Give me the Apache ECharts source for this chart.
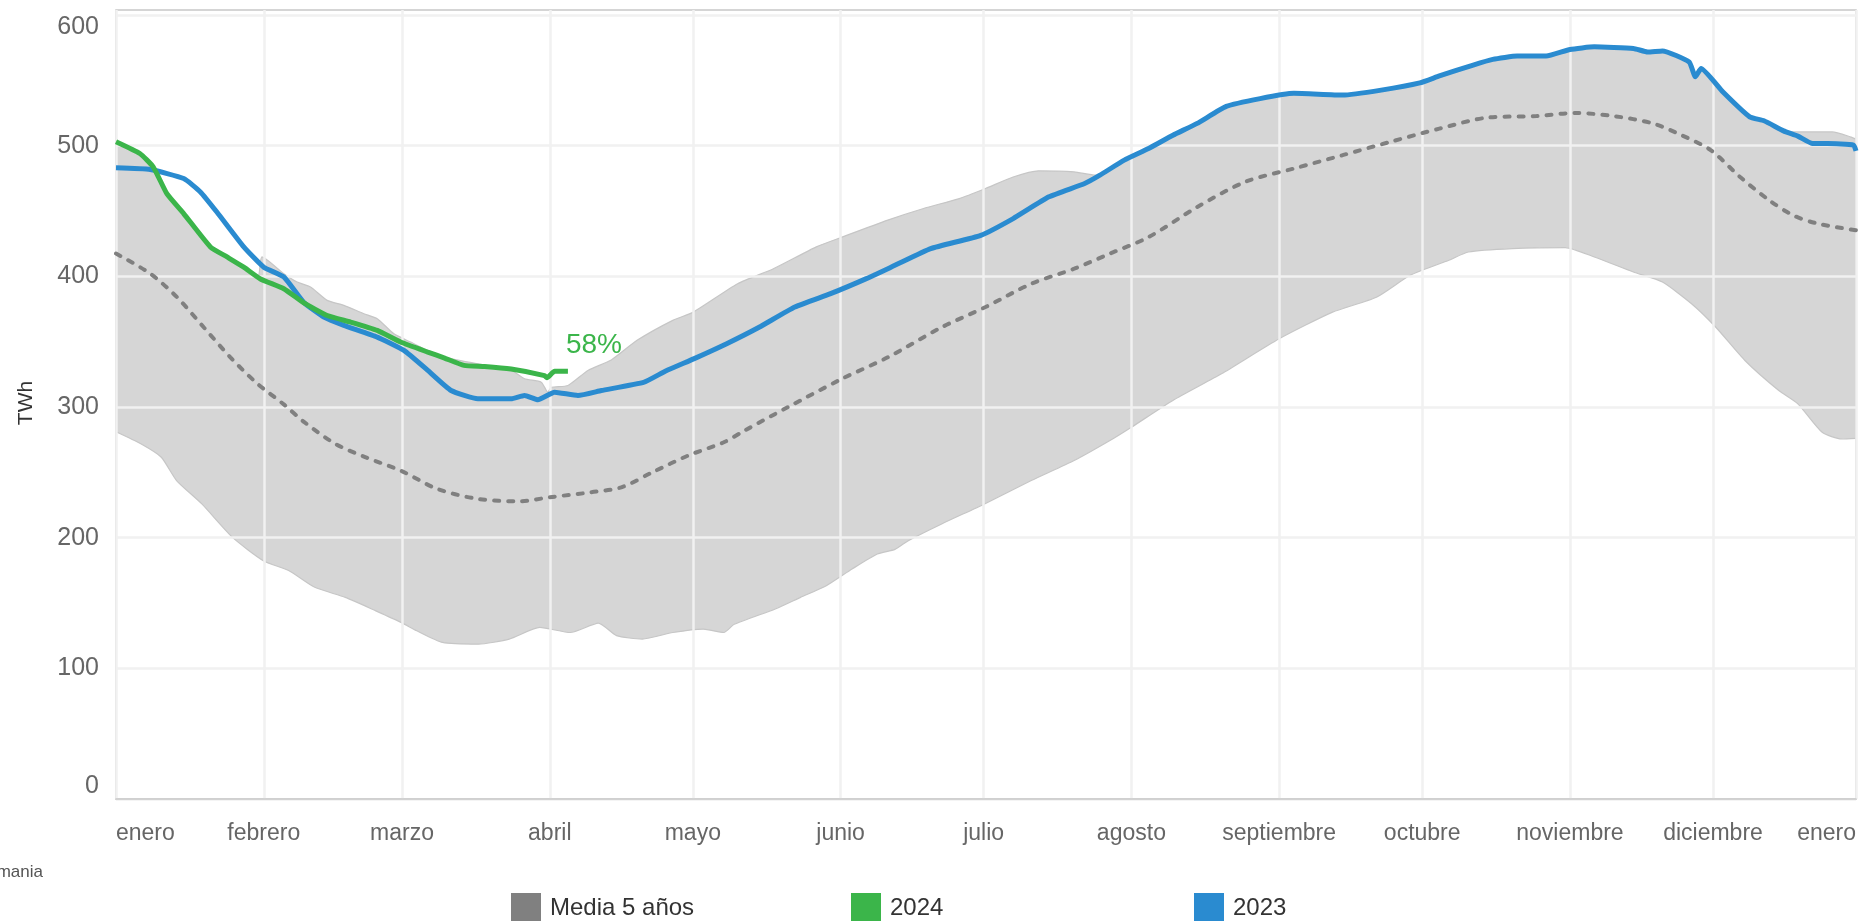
<!DOCTYPE html>
<html>
<head>
<meta charset="utf-8">
<script src="https://cdn.jsdelivr.net/npm/echarts@6/dist/echarts.min.js"></script>
<style>
  html, body { margin: 0; padding: 0; background: #fff; }
  #chart { width: 1875px; height: 921px; }
</style>
</head>
<body>
<div id="chart"></div>
<script>
// eje x: dia del año (0 = 1 de enero)
var monthStarts = [0, 31, 60, 91, 121, 152, 182, 213, 244, 274, 305, 335, 365];
var monthNames = ['enero', 'febrero', 'marzo', 'abril', 'mayo', 'junio', 'julio',
  'agosto', 'septiembre', 'octubre', 'noviembre', 'diciembre', 'enero'];
var yTicks = [0, 100, 200, 300, 400, 500, 600];

// rango de 5 años: borde superior
var highDays = [0, 5, 7.8, 10.7, 14.2, 19.8, 23.3, 26.8, 29.8, 30.6, 35.2, 38, 40.8, 44.3, 47.8, 52, 54.8, 58.3, 61.8, 65.4,
  68.8, 75.9, 82.9, 85.7, 89.2, 90.6, 91.3, 94.8, 99, 103.9, 109.3, 116.8, 121.1, 130.4, 137.9, 146.9, 152.3, 161.9, 169.4, 176.9,
  182.4, 188.2, 193.5, 201, 205.5, 211.5, 216.6, 221.7, 226.8, 232.9, 240, 247.1, 257.3, 265.4, 273.5, 277.6, 284.7, 288.8, 293.9, 300,
  305, 310.1, 318.3, 321.3, 324.4, 330, 331.3, 332.5, 337.1, 342.7, 345.7, 349.8, 360, 364, 365];
var bandHigh = [502, 494, 484, 463, 448, 422.5, 415, 407, 400, 414.8, 402, 395.6, 391.8, 381.6, 377.8, 371.4, 367.6, 356, 349.7, 343.3,
  338.2, 333, 328, 321.6, 319, 311.3, 315, 316.5, 328, 336, 351, 366.3, 372.6, 394.3, 405.8, 422.5, 430, 443, 451.9, 459.5,
  467.2, 476, 480.7, 479.9, 477.4, 488, 497, 507, 516, 529, 535, 539, 538, 541.5, 547, 552, 561, 565, 567.6, 567.6,
  572.6, 574.6, 573.4, 570.7, 571.5, 563, 552, 558, 540, 521, 518, 510.5, 510.5, 506.5, 505];

// rango de 5 años: borde inferior
var lowDays = [0, 5.2, 9.5, 12.7, 18, 24.5, 30.9, 36.3, 41.7, 48.1, 54.5, 59.9, 63.1, 68.5, 76, 82.5, 88.9, 95.3, 101.2, 105,
  110.4, 116.8, 123.2, 127.5, 129.7, 138.3, 143.6, 149, 154.4, 159.7, 163.4, 166.2, 173.2, 182.2, 192, 201, 208.5, 213, 221.7, 231.9,
  244, 255.2, 264.4, 271.5, 279.6, 283.7, 292.9, 304, 310.1, 318.3, 324.4, 330.5, 335.6, 341.7, 348.8, 352.8, 357.9, 362, 365];
var bandLow = [281, 271.8, 261.5, 243.7, 225.8, 200, 182.4, 174.7, 162, 154.3, 144, 135, 128.7, 119.8, 118.5, 122.4, 131.3, 127.4, 134.6, 125,
  122.4, 127.4, 130, 127.4, 133.7, 145.4, 154.3, 163.2, 176, 187.5, 191, 197.7, 210.5, 225.8, 243.7, 259, 274.3, 284.5, 305, 325.4,
  352.2, 372.6, 384, 400.8, 412.3, 418.6, 421.2, 422, 414.8, 403.3, 395.6, 379, 361, 335.6, 312.6, 302.4, 280.6, 275.5, 276];

// media 5 años
var avgDays = [0, 7.2, 12.8, 18.4, 24, 29.6, 35.2, 39.5, 46, 52.4, 59.9, 67.4, 76, 84.6, 91, 99.6, 106, 112.5, 120, 127.5,
  131.9, 140.9, 152.3, 161.9, 173.2, 182.4, 192, 201, 208.5, 216.6, 226.8, 236.9, 247.1, 257.3, 267.4, 277.6, 287.8, 298, 306, 314.2,
  322.4, 328.4, 334.5, 340.7, 346.8, 351.8, 356.9, 365];
var avg5 = [417.4, 402, 384, 361, 338, 318, 302, 288.4, 271.8, 261.5, 251, 237.3, 229.6, 227.8, 230.9, 234.7, 238.5, 250, 262.8, 273,
  282, 299.8, 321.6, 338, 361, 376.5, 394.3, 405.8, 417.4, 430, 453, 472.3, 482.5, 492.7, 503, 513, 521.5, 522.6, 525, 522.6,
  517, 508, 496.6, 476, 458.2, 446.7, 440.4, 435.2];

// 2023
var days2023 = [0, 7.2, 14.2, 17.7, 21.2, 26.8, 31, 35.2, 39.4, 43.6, 47.8, 54.8, 60.4, 65.4, 70.3, 75.9, 82.9, 85.7, 88.5, 92,
  96.9, 101.8, 110.8, 115.3, 121.3, 128.1, 134.9, 142.4, 149.9, 157.4, 163.4, 170.9, 181.4, 188.2, 195.7, 203.2, 206.4, 211.5, 216.6, 221.7,
  226.8, 232.9, 240, 247.1, 257.3, 265.4, 273.5, 277.6, 284.7, 288.8, 293.9, 300, 305, 310.1, 318.3, 321.3, 324.4, 330, 331.3, 332.5,
  337.1, 342.7, 345.7, 349.8, 352.8, 355.9, 359, 364.5, 365];
var vals2023 = [483, 481.7, 474.8, 464.6, 449, 422.5, 407, 399.5, 380, 368.8, 362.5, 353.5, 343.3, 328, 312.6, 306.3, 306.3, 308.8, 305.5, 311.3,
  308.8, 312.6, 319, 327.5, 337, 348.4, 361, 376.5, 386.7, 398.2, 408.4, 421.2, 431.4, 444.2, 460.8, 471, 477.4, 488.9, 497.8, 508,
  517, 530, 536, 540, 538.7, 542.5, 548, 553.3, 561.7, 566, 568.6, 568.6, 573.6, 575.6, 574.4, 571.7, 572.5, 564, 552.7, 559,
  541, 522, 519, 511.3, 507.3, 501.6, 501.6, 500.4, 496];

// 2024
var days2024 = [0, 5, 7.8, 10.7, 14.2, 19.8, 23.3, 26.8, 30.3, 35.2, 39.4, 44.3, 49.2, 54.8, 59.7, 65.4, 68.8, 73, 77.3, 82.9,
  89.9, 90.4, 92, 94.8];
var vals2024 = [503, 494, 483.8, 463, 448, 422.5, 414.8, 407, 398, 390.5, 379.6, 370, 365, 358.6, 349.7, 342, 337.6, 331.8, 331, 329,
  324, 322.4, 327.3, 327.3];
var label2024 = '58%';

function pairs(xs, ys) {
  return xs.map(function (d, i) { return [d, ys[i]]; });
}

var font = 'Liberation Sans, Arial, sans-serif';
var chart = echarts.init(document.getElementById('chart'));

function legendAt(left, name) {
  return {
    left: left, top: 893, padding: 0,
    icon: 'rect', itemWidth: 30, itemHeight: 30,
    data: [name],
    textStyle: { fontFamily: font, fontSize: 24, color: '#333', padding: [0, 0, 0, 4] }
  };
}

var option = {
  animation: false,
  backgroundColor: '#fff',
  grid: {
    left: 116, right: 19, top: 10, bottom: 122, z: 2,
    show: true, borderColor: '#c8c8c8', borderWidth: 1.5, backgroundColor: 'transparent'
  },
  legend: [
    legendAt(511, 'Media 5 años'),
    legendAt(851, '2024'),
    legendAt(1194, '2023')
  ],
  xAxis: {
    type: 'value', min: 0, max: 365, z: 2,
    axisLine: { show: true, lineStyle: { color: '#c8c8c8', width: 1.5 } },
    axisTick: { show: false, customValues: monthStarts },
    splitLine: { show: true, lineStyle: { color: '#f1f1f1', width: 2.5 } },
    axisLabel: {
      customValues: monthStarts,
      alignMinLabel: 'left', alignMaxLabel: 'right',
      margin: 23, fontFamily: font, fontSize: 23, color: '#666',
      formatter: function (v) {
        var i = monthStarts.indexOf(Math.round(v));
        return i >= 0 ? monthNames[i] : '';
      }
    }
  },
  yAxis: {
    type: 'value', min: 0, max: 603.8, z: 2,
    axisLine: { show: false },
    axisTick: { show: false, customValues: yTicks },
    splitLine: { show: true, lineStyle: { color: '#f1f1f1', width: 2.5 } },
    axisLabel: {
      customValues: yTicks, margin: 17, align: 'right',
      verticalAlignMinLabel: 'bottom', verticalAlignMaxLabel: 'top',
      fontFamily: font, fontSize: 25, color: '#666'
    }
  },
  graphic: [
    {
      type: 'text', x: 26, y: 403, rotation: Math.PI / 2,
      style: { text: 'TWh', fontFamily: font, fontSize: 21, fill: '#333', textAlign: 'center', textVerticalAlign: 'middle' }
    },
    {
      type: 'text', x: 43, y: 872,
      style: { text: 'mania', fontFamily: font, fontSize: 17, fill: '#555', textAlign: 'right', textVerticalAlign: 'middle' }
    }
  ],
  series: [
    {
      name: 'bandHigh', type: 'line', z: 1, smooth: 0.2,
      symbol: 'none', silent: true,
      lineStyle: { color: '#c6c6c6', width: 1.2 },
      areaStyle: { color: '#d6d6d6', opacity: 1, origin: 'start' },
      data: pairs(highDays, bandHigh)
    },
    {
      name: 'bandLow', type: 'line', z: 1, smooth: 0.2,
      symbol: 'none', silent: true,
      lineStyle: { color: '#c6c6c6', width: 1.2 },
      areaStyle: { color: '#ffffff', opacity: 1, origin: 'start' },
      data: pairs(lowDays, bandLow)
    },
    {
      name: 'Media 5 años', type: 'line', z: 3, smooth: 0.3, symbol: 'none',
      color: '#808080',
      itemStyle: { color: '#808080' },
      lineStyle: { color: '#808080', width: 4, type: [5, 9], cap: 'round' },
      data: pairs(avgDays, avg5)
    },
    {
      name: '2023', type: 'line', z: 4, smooth: 0.15, symbol: 'none',
      color: '#2a8bd0',
      lineStyle: { color: '#2a8bd0', width: 5 },
      data: pairs(days2023, vals2023)
    },
    {
      name: '2024', type: 'line', z: 5, smooth: 0.15, symbol: 'none',
      color: '#3bb54a',
      lineStyle: { color: '#3bb54a', width: 5 },
      endLabel: {
        show: true, formatter: label2024, offset: [-10, -26],
        fontFamily: font, fontSize: 28, color: '#3bb54a'
      },
      data: pairs(days2024, vals2024)
    }
  ]
};
chart.setOption(option);
</script>
</body>
</html>
